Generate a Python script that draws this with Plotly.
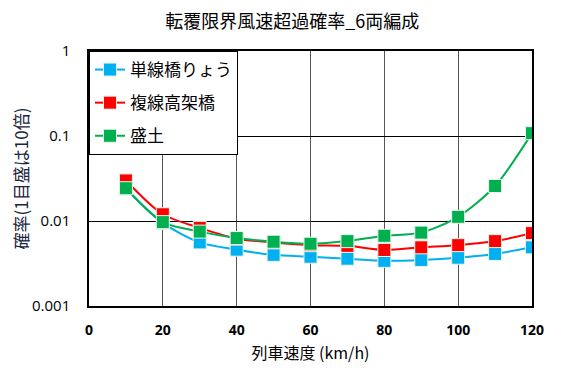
import plotly.graph_objects as go

speeds = [10, 20, 30, 40, 50, 60, 70, 80, 90, 100, 110, 120]
single_bridge = [0.024, 0.0095, 0.0056, 0.0046, 0.0040, 0.0038, 0.0036, 0.0034, 0.00348, 0.0037, 0.0041, 0.0049]
double_viaduct = [0.030, 0.012, 0.0083, 0.0062, 0.0056, 0.0052, 0.0051, 0.00456, 0.0049, 0.0052, 0.0058, 0.0072]
embankment = [0.0243, 0.0097, 0.0075, 0.0063, 0.0057, 0.0054, 0.0058, 0.0067, 0.0073, 0.0112, 0.0258, 0.108]

names = ["単線橋りょう", "複線高架橋", "盛土"]
colors = ["#00B0F0", "#FF0000", "#00B050"]
series = [single_bridge, double_viaduct, embankment]

y_ticks = [0.001, 0.01, 0.1, 1]
y_tick_text = ["0.001", "0.01", "0.1", "1"]
x_ticks = [0, 20, 40, 60, 80, 100, 120]

jp = "Noto Sans CJK JP"

fig = go.Figure()
for name, col, vals in zip(names, colors, series):
    fig.add_trace(go.Scatter(
        x=speeds, y=vals, name=name, legendgroup=name,
        mode="lines+markers",
        line=dict(color=col, width=2, shape="spline", smoothing=0.8),
        marker=dict(symbol="square", size=13, color=col,
                    line=dict(color="#E8F4E8", width=1)),
    ))

# page body has an 8px default margin, so margins are shifted by 8px
fig.update_layout(
    width=563, height=387,
    margin=dict(l=81, r=39, t=43, b=89, autoexpand=False),
    paper_bgcolor="white", plot_bgcolor="white",
    title=dict(text="転覆限界風速超過確率_6両編成", x=0.505, xanchor="center",
               y=1 - 14 / 387, yanchor="middle",
               font=dict(family=jp, size=18, color="black")),
    legend=dict(x=0, y=1, xanchor="left", yanchor="top",
                bgcolor="white", bordercolor="black", borderwidth=1,
                font=dict(family=jp, size=17, color="black"),
                tracegroupgap=8, itemwidth=30),
    showlegend=True,
)
fig.update_xaxes(
    range=[0, 120], tickvals=x_ticks, automargin=False,
    showgrid=True, gridcolor="#555555", gridwidth=1,
    showline=True, linecolor="black", linewidth=1.5, mirror=True,
    ticks="", ticklabelstandoff=10,
    tickfont=dict(family="Open Sans", size=14, color="black", weight="bold"),
    title=dict(text="列車速度 (km/h)", font=dict(family=jp, size=16, color="black"),
               standoff=10),
    zeroline=False,
)
fig.update_yaxes(
    type="log", range=[-3, 0], tickvals=y_ticks, ticktext=y_tick_text, automargin=False,
    showgrid=True, gridcolor="black", gridwidth=1,
    showline=True, linecolor="black", linewidth=1.5, mirror=True,
    ticks="", ticklabelstandoff=14,
    tickfont=dict(family="Open Sans", size=15, color="black"),
    title=dict(text="確率(1目盛は10倍)", font=dict(family=jp, size=17, color="#1A2540"),
               standoff=8),
    zeroline=False,
)

fig.write_html("out.html")
